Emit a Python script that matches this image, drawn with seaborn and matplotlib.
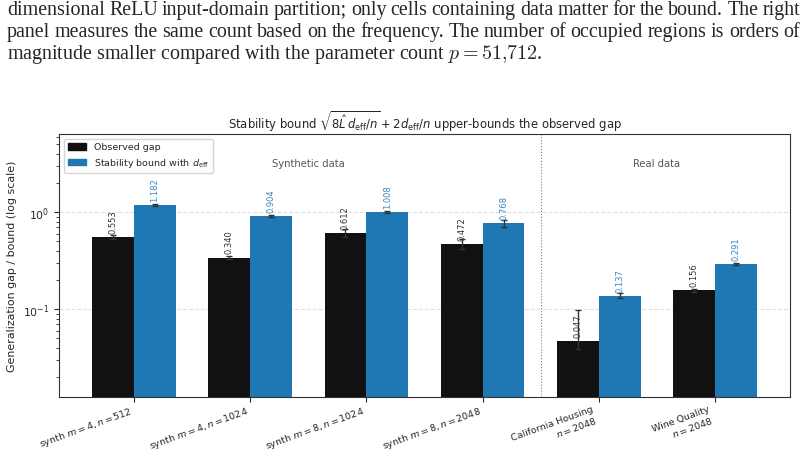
import numpy as np
import pandas as pd
import matplotlib
matplotlib.use("Agg")
import matplotlib.pyplot as plt
import seaborn as sns

# Werte
datasets = ["synth $m = 4, n = 512$", "synth $m = 4, n = 1024$",
            "synth $m = 8, n = 1024$", "synth $m = 8, n = 2048$",
            "California Housing\n$n = 2048$", "Wine Quality\n$n = 2048$"]
observed = [0.553, 0.340, 0.612, 0.472, 0.047, 0.156]
bound = [1.182, 0.904, 1.008, 0.768, 0.137, 0.291]
observed_err_lo = [0.03, 0.015, 0.06, 0.06, 0.008, 0.005]
observed_err_hi = [0.03, 0.015, 0.06, 0.06, 0.051, 0.005]
bound_err = [0.03, 0.02, 0.03, 0.07, 0.008, 0.008]
series = ["Observed gap", r"Stability bound with $d_{\mathrm{eff}}$"]

caption_lines = [
    "dimensional ReLU input-domain partition; only cells containing data matter for the bound. The right",
    "panel measures the same count based on the frequency. The number of occupied regions is orders of",
    "magnitude smaller compared with the parameter count $p = 51{,}712$.",
]

df = pd.DataFrame({
    "dataset": datasets * 2,
    "value": observed + bound,
    "series": [series[0]] * len(datasets) + [series[1]] * len(datasets),
})

sns.set_style("ticks")
plt.rcParams["font.family"] = ["DejaVu Sans"]

W, H = 806, 452
fig = plt.figure(figsize=(W / 100, H / 100), dpi=100)
ax = fig.add_axes([59 / W, 1 - 398 / H, (790 - 59) / W, (398 - 135) / H])

colors = ["#111111", "#1f77b4"]
sns.barplot(data=df, x="dataset", y="value", hue="series", palette=colors,
            width=0.72, errorbar=None, saturation=1, linewidth=0, ax=ax, legend=False)
ax.set_yscale("log")
ax.set_ylim(0.0124, 6.4)
ax.set_xlim(-0.646, 5.646)

# Fehlerbalken und Werte-Beschriftungen
errs = [np.array([observed_err_lo, observed_err_hi]), np.array([bound_err, bound_err])]
vals = [observed, bound]
txt_colors = ["#333333", "#3a86c0"]
for cont, v, e, tc in zip(ax.containers, vals, errs, txt_colors):
    xs = [p.get_x() + p.get_width() / 2 for p in cont.patches]
    ax.errorbar(xs, v, yerr=e, fmt="none", ecolor="#333333", elinewidth=1, capsize=2.2, capthick=1)
    for x, y in zip(xs, v):
        ax.annotate(f"{y:.3f}", (x, y), xytext=(0, 3), textcoords="offset points",
                    rotation=90, ha="center", va="bottom", fontsize=6, color=tc)

# Legende
handles = [plt.Rectangle((0, 0), 1, 1, color=c) for c in colors]
ax.legend(handles, series, loc="upper left", fontsize=6.8, frameon=True)

ax.axvline(3.5, color="gray", linestyle=":", linewidth=0.8)
ax.text(1.5, 0.89, "Synthetic data", transform=ax.get_xaxis_transform(),
        ha="center", va="center", fontsize=7.2, color="#555555")
ax.text(4.5, 0.89, "Real data", transform=ax.get_xaxis_transform(),
        ha="center", va="center", fontsize=7.2, color="#555555")

ax.yaxis.grid(True, which="major", linestyle="--", color="#cccccc", alpha=0.6)
ax.set_axisbelow(True)
ax.set_xlabel("")
ax.set_ylabel("Generalization gap / bound (log scale)", fontsize=7.9)
ax.tick_params(axis="y", labelsize=7.8)
ax.tick_params(axis="x", pad=1.5)
ax.set_xticks(range(len(datasets)))
ax.set_xticklabels(datasets, rotation=20, ha="right", fontsize=6.8)
ax.set_title(r"Stability bound $\sqrt{8\hat{L}\,d_{\mathrm{eff}}/n} + 2d_{\mathrm{eff}}/n$ upper-bounds the observed gap",
             fontsize=8.4, pad=4)
for s in ax.spines.values():
    s.set_color("#333333")

# Text oberhalb der Grafik (Blocksatz fuer die ersten zwei Zeilen)
cap_kw = dict(family="Liberation Serif", fontsize=14.4, math_fontfamily="cm", va="baseline")
renderer = fig.canvas.get_renderer()
baselines = [15, 37, 59]
x0, x1 = 7, 800
for i, line in enumerate(caption_lines):
    y = 1 - baselines[i] / H
    if i < 2:
        words = line.split(" ")
        texts = [fig.text(0, y, w, **cap_kw) for w in words]
        widths = [t.get_window_extent(renderer).width for t in texts]
        gap = (x1 - x0 - sum(widths)) / (len(words) - 1)
        x = x0
        for t, w in zip(texts, widths):
            t.set_x(x / W)
            x += w + gap
    else:
        fig.text(x0 / W, y, line, **cap_kw)

fig.savefig("out.png", dpi=100)
